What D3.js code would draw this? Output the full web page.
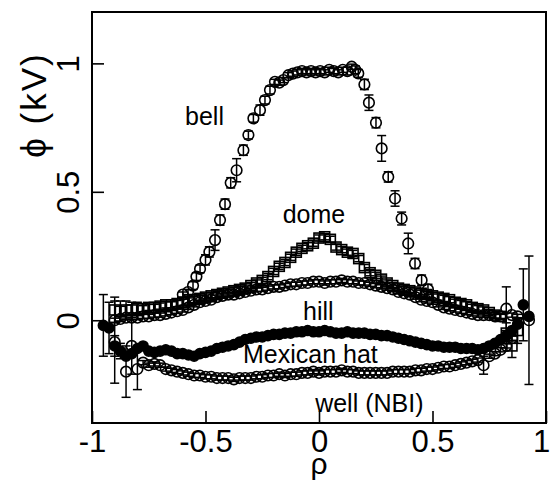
<!DOCTYPE html>
<html>
<head>
<meta charset="utf-8">
<script src="https://cdn.jsdelivr.net/npm/d3@7"></script>
<style>
body { margin: 0; background: #fff; }
svg { font-family: "Liberation Sans", Arial, sans-serif; }
</style>
</head>
<body>
<svg id="chart" width="551" height="482"></svg>
<script>
// axis ticks
var xTicks = [-1, -0.5, 0, 0.5, 1];
var xTickLabels = ['-1', '-0.5', '0', '0.5', '1'];
var yTicks = [0, 0.5, 1];
var yTickLabels = ['0', '0.5', '1'];

// rho grid shared by the broad profiles (dome, hill, mexican hat, well)
var rhoGrid = [
    -0.95, -0.925, -0.9, -0.875, -0.85, -0.825, -0.8, -0.775, -0.75, -0.725,
    -0.7, -0.675, -0.65, -0.625, -0.6, -0.575, -0.55, -0.525, -0.5, -0.475,
    -0.45, -0.425, -0.4, -0.375, -0.35, -0.325, -0.3, -0.275, -0.25, -0.225,
    -0.2, -0.175, -0.15, -0.125, -0.1, -0.075, -0.05, -0.025, 0, 0.025,
    0.05, 0.075, 0.1, 0.125, 0.15, 0.175, 0.2, 0.225, 0.25, 0.275,
    0.3, 0.325, 0.35, 0.375, 0.4, 0.425, 0.45, 0.475, 0.5, 0.525,
    0.55, 0.575, 0.6, 0.625, 0.65, 0.675, 0.7, 0.725, 0.75, 0.775,
    0.8, 0.825, 0.85, 0.875, 0.9, 0.925, 0.95
];

// dome (open squares)
var domePhi = [
    null, null, 0.04, 0.035, 0.04, 0.04, 0.045, 0.045, 0.05, 0.05,
    0.055, 0.06, 0.06, 0.065, 0.07, 0.075, 0.08, 0.085, 0.09, 0.095,
    0.1, 0.105, 0.11, 0.115, 0.12, 0.125, 0.135, 0.145, 0.155, 0.17,
    0.19, 0.21, 0.225, 0.245, 0.265, 0.28, 0.29, 0.3, 0.32, 0.325,
    0.315, 0.285, 0.275, 0.265, 0.26, 0.24, 0.205, 0.185, 0.175, 0.16,
    0.145, 0.135, 0.125, 0.12, 0.115, 0.11, 0.105, 0.1, 0.095, 0.09,
    0.085, 0.08, 0.07, 0.065, 0.06, 0.05, 0.045, 0.04, 0.03, 0.02,
    0.015, -0.05, -0.1, -0.04, null, null, null
];
var domeErrTypical = 0.012;
var domeErrLarge = [[2, 0.05], [3, 0.04], [4, 0.035], [5, 0.03], [6, 0.025], [71, 0.04], [72, 0.045], [73, 0.05]];

// hill (open circles)
var hillPhi = [
    null, null, 0.0, 0.005, 0.01, 0.01, 0.01, 0.015, 0.015, 0.02,
    0.02, 0.025, 0.03, 0.035, 0.04, 0.05, 0.06, 0.07, 0.075, 0.08,
    0.09, 0.095, 0.1, 0.1, 0.105, 0.11, 0.115, 0.12, 0.12, 0.125,
    0.13, 0.13, 0.135, 0.14, 0.14, 0.145, 0.145, 0.15, 0.15, 0.145,
    0.15, 0.15, 0.155, 0.15, 0.15, 0.145, 0.145, 0.14, 0.135, 0.13,
    0.125, 0.12, 0.11, 0.105, 0.1, 0.09, 0.08, 0.075, 0.07, 0.06,
    0.05, 0.045, 0.04, 0.035, 0.03, 0.025, 0.02, 0.02, 0.02, 0.015,
    0.015, 0.045, 0.02, 0.015, null, 0.0, null
];
var hillErrTypical = 0.008;
var hillErrLarge = [[71, 0.085], [75, 0.25]];

// mexican hat (filled circles)
var mexicanPhi = [
    -0.02, -0.03, -0.1, -0.12, -0.14, -0.13, -0.11, -0.1, -0.12, -0.125,
    -0.12, -0.115, -0.12, -0.13, -0.13, -0.135, -0.14, -0.13, -0.125, -0.12,
    -0.11, -0.105, -0.1, -0.095, -0.085, -0.075, -0.07, -0.065, -0.065, -0.06,
    -0.055, -0.055, -0.05, -0.05, -0.045, -0.045, -0.04, -0.045, -0.045, -0.04,
    -0.045, -0.05, -0.05, -0.045, -0.05, -0.05, -0.05, -0.055, -0.055, -0.06,
    -0.06, -0.065, -0.07, -0.075, -0.08, -0.085, -0.09, -0.095, -0.1, -0.1,
    -0.105, -0.105, -0.105, -0.11, -0.11, -0.11, -0.115, -0.11, -0.1, -0.09,
    -0.075, -0.06, -0.04, -0.015, 0.06, 0.015, null
];
var mexicanErrTypical = 0.006;
var mexicanErrLarge = [[0, 0.12], [1, 0.1], [2, 0.04], [3, 0.03], [74, 0.14]];

// well, NBI (open circles)
var wellPhi = [
    null, null, -0.085, null, -0.2, -0.1, -0.19, -0.165, -0.175, -0.17,
    -0.175, -0.19, -0.195, -0.2, -0.205, -0.21, -0.215, -0.215, -0.22, -0.22,
    -0.225, -0.225, -0.225, -0.23, -0.225, -0.225, -0.225, -0.22, -0.22, -0.215,
    -0.215, -0.21, -0.215, -0.21, -0.21, -0.205, -0.205, -0.2, -0.205, -0.2,
    -0.2, -0.2, -0.195, -0.2, -0.2, -0.205, -0.205, -0.205, -0.205, -0.205,
    -0.205, -0.2, -0.2, -0.2, -0.2, -0.195, -0.195, -0.19, -0.19, -0.185,
    -0.18, -0.18, -0.175, -0.17, -0.165, -0.16, -0.155, -0.175, -0.14, -0.13,
    -0.115, -0.1, -0.07, null, null, null, null
];
var wellErrTypical = 0.008;
var wellErrLarge = [[2, 0.16], [4, 0.1], [5, 0.11], [6, 0.08], [67, 0.035]];

// bell (open circles), own rho points
var bellRho = [
    -0.6, -0.577, -0.555, -0.54, -0.524, -0.5, -0.483, -0.458, -0.436, -0.414,
    -0.389, -0.363, -0.333, -0.311, -0.289, -0.26, -0.238, -0.216, -0.194, -0.175,
    -0.157, -0.135, -0.115, -0.095, -0.075, -0.055, -0.035, -0.015, 0.005, 0.025,
    0.045, 0.065, 0.085, 0.105, 0.125, 0.144, 0.16, 0.173, 0.2, 0.22,
    0.251, 0.276, 0.305, 0.335, 0.364, 0.393, 0.423, 0.452, 0.48
];
var bellPhi = [
    0.1, 0.11, 0.135, 0.17, 0.2, 0.235, 0.266, 0.312, 0.39, 0.452,
    0.535, 0.584, 0.662, 0.721, 0.786, 0.818, 0.857, 0.896, 0.928, 0.925,
    0.935, 0.954, 0.96, 0.965, 0.97, 0.965, 0.97, 0.965, 0.97, 0.965,
    0.975, 0.97, 0.965, 0.975, 0.97, 0.987, 0.975, 0.961, 0.918, 0.847,
    0.769, 0.669, 0.558, 0.474, 0.396, 0.299, 0.221, 0.156, 0.12
];
var bellErr = [
    0.01, 0.01, 0.015, 0.015, 0.015, 0.02, 0.02, 0.04, 0.02, 0.02,
    0.02, 0.045, 0.02, 0.015, 0.015, 0.02, 0.015, 0.015, 0.01, 0.01,
    0.01, 0.01, 0.01, 0.01, 0.01, 0.01, 0.01, 0.01, 0.01, 0.01,
    0.01, 0.01, 0.01, 0.01, 0.015, 0.01, 0.015, 0.015, 0.02, 0.03,
    0.02, 0.05, 0.02, 0.03, 0.025, 0.04, 0.02, 0.02, 0.02
];

// profile labels
var labels = [
    {text: 'bell', rho: -0.59, phi: 0.76},
    {text: 'dome', rho: -0.16, phi: 0.38},
    {text: 'hill', rho: -0.07, phi: 0.0},
    {text: 'Mexican hat', rho: -0.335, phi: -0.168},
    {text: 'well (NBI)', rho: -0.017, phi: -0.357}
];

var plotLeft = 92, plotRight = 546, plotTop = 12, plotBottom = 423;

var svg = d3.select('#chart');

var x = d3.scaleLinear().domain([-1, 1]).range([plotLeft, plotRight]);
var y = d3.scaleLinear().domain([-0.4, 1.2]).range([plotBottom, plotTop]);

// build point list from arrays, skipping empty grid slots
function makePoints(rho, phi, errTypical, errLarge){
    var big = {};
    errLarge.forEach(function(p){ big[p[0]] = p[1]; });
    var pts = [];
    for(var i = 0, imax = rho.length; i < imax; i++){
        if(phi[i] === null || phi[i] === undefined){ continue; }
        pts.push({rho: rho[i], phi: phi[i], err: big[i] !== undefined ? big[i] : errTypical});
    }
    return pts;
}

function drawErrorBars(g, pts){
    var cap = 4.5;
    pts.forEach(function(d){
        var y0 = y(d.phi - d.err), y1 = y(d.phi + d.err), cx = x(d.rho);
        g.append('line').attr('x1', cx).attr('x2', cx).attr('y1', y0).attr('y2', y1);
        g.append('line').attr('x1', cx - cap).attr('x2', cx + cap).attr('y1', y0).attr('y2', y0);
        g.append('line').attr('x1', cx - cap).attr('x2', cx + cap).attr('y1', y1).attr('y2', y1);
    });
    g.selectAll('line').attr('stroke', '#000').attr('stroke-width', 1.5);
}

function drawSeries(pts, marker){
    var g = svg.append('g');
    drawErrorBars(g.append('g'), pts);

    if(marker == 'square'){
        g.selectAll('rect.m')
            .data(pts)
            .enter().append('rect')
                .attr('class', 'm')
                .attr('x', function(d){ return x(d.rho) - 5; })
                .attr('y', function(d){ return y(d.phi) - 5; })
                .attr('width', 10)
                .attr('height', 10)
                .attr('fill', 'none')
                .attr('stroke', '#000')
                .attr('stroke-width', 1.6);
    } else{
        g.selectAll('circle.m')
            .data(pts)
            .enter().append('circle')
                .attr('class', 'm')
                .attr('cx', function(d){ return x(d.rho); })
                .attr('cy', function(d){ return y(d.phi); })
                .attr('r', marker == 'filled' ? 5 : 5.3)
                .attr('fill', marker == 'filled' ? '#000' : 'none')
                .attr('stroke', '#000')
                .attr('stroke-width', 1.6);
    }
}

var bellErrPairs = bellErr.map(function(e, i){ return [i, e]; });

drawSeries(makePoints(rhoGrid, domePhi, domeErrTypical, domeErrLarge), 'square');
drawSeries(makePoints(rhoGrid, hillPhi, hillErrTypical, hillErrLarge), 'open');
drawSeries(makePoints(rhoGrid, mexicanPhi, mexicanErrTypical, mexicanErrLarge), 'filled');
drawSeries(makePoints(rhoGrid, wellPhi, wellErrTypical, wellErrLarge), 'open');
drawSeries(makePoints(bellRho, bellPhi, 0, bellErrPairs), 'open');

// frame
svg.append('rect')
    .attr('x', plotLeft).attr('y', plotTop)
    .attr('width', plotRight - plotLeft).attr('height', plotBottom - plotTop)
    .attr('fill', 'none').attr('stroke', '#000').attr('stroke-width', 2);

// x axis, ticks pointing inward
var xAxisG = svg.append('g')
    .attr('transform', 'translate(0,' + plotBottom + ')')
    .call(d3.axisBottom(x).tickValues(xTicks).tickSize(-12).tickSizeOuter(0)
        .tickFormat(function(d, i){ return xTickLabels[i]; }));
xAxisG.select('.domain').remove();
xAxisG.selectAll('line').attr('stroke-width', 1.6);
xAxisG.selectAll('text')
    .attr('y', 29).attr('dy', 0)
    .attr('x', function(d){ return d == 1 ? -5 : 0; })
    .attr('fill', '#000')
    .attr('font-size', 31)
    .attr('font-family', '"Liberation Sans", Arial, sans-serif');

// y axis, rotated tick labels
var yAxisG = svg.append('g')
    .attr('transform', 'translate(' + plotLeft + ',0)')
    .call(d3.axisLeft(y).tickValues(yTicks).tickSize(-12).tickSizeOuter(0)
        .tickFormat(function(d, i){ return yTickLabels[i]; }));
yAxisG.select('.domain').remove();
yAxisG.selectAll('line').attr('stroke-width', 1.6);
yAxisG.selectAll('text')
    .attr('x', 0).attr('dy', 0)
    .attr('text-anchor', 'middle')
    .attr('transform', 'translate(-13,0) rotate(-90)')
    .attr('fill', '#000')
    .attr('font-size', 31)
    .attr('font-family', '"Liberation Sans", Arial, sans-serif');

// axis titles
svg.append('text')
    .attr('transform', 'translate(46,105) rotate(-90)')
    .attr('text-anchor', 'middle')
    .attr('font-size', 35)
    .attr('letter-spacing', 2)
    .text('\u03D5 (kV)');

svg.append('text')
    .attr('x', (plotLeft + plotRight) / 2)
    .attr('y', 474)
    .attr('text-anchor', 'middle')
    .attr('font-size', 30)
    .text('\u03C1');

// profile names inside the plot
svg.selectAll('text.lbl')
    .data(labels)
    .enter().append('text')
        .attr('class', 'lbl')
        .attr('x', function(d){ return x(d.rho); })
        .attr('y', function(d){ return y(d.phi); })
        .attr('font-size', 25)
        .text(function(d){ return d.text; });
</script>
</body>
</html>
